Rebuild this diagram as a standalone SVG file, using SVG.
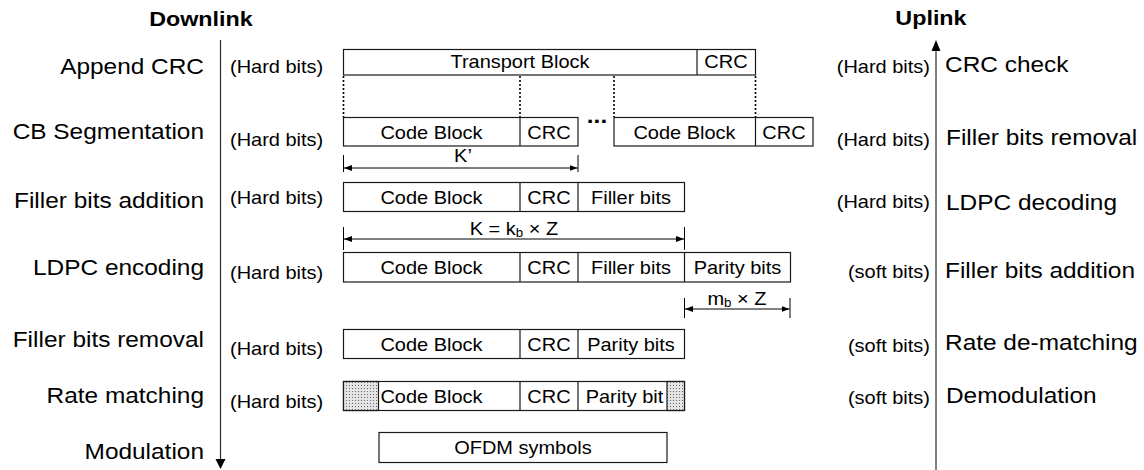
<svg xmlns="http://www.w3.org/2000/svg" width="1144" height="470" viewBox="0 0 1144 470">
  <style>
    text { font-family: "Liberation Sans", Arial, sans-serif; fill: #000; transform-box: fill-box; transform: scaleX(1.11); }
    .title { font-size: 21px; font-weight: bold; text-anchor: middle; transform-origin: 50% 50%; }
    .step { font-size: 22px; }
    .sl { text-anchor: end; transform-origin: 100% 50%; }
    .sr { text-anchor: start; transform-origin: 0% 50%; }
    .bits { font-size: 18px; }
    .cell { font-size: 18px; text-anchor: middle; transform-origin: 50% 50%; }
    .box { fill: #fff; stroke: #1a1a1a; stroke-width: 1.2; }
    .div { stroke: #1a1a1a; stroke-width: 1.2; }
    .dot { stroke: #000; stroke-width: 1.6; stroke-dasharray: 2 2; }
    .dim { stroke: #000; stroke-width: 1; fill: none; }
    .tick { stroke: #000; stroke-width: 1; }
    .hatch { fill: url(#stipple); stroke: #1a1a1a; stroke-width: 1.2; }
  </style>
  <defs>
    <pattern id="stipple" width="3" height="3" patternUnits="userSpaceOnUse">
      <rect width="3" height="3" fill="#e4e4e4"/>
      <rect x="1" y="1" width="1" height="1" fill="#6a6a6a"/>
    </pattern>
    <marker id="dimhead" viewBox="0 0 8 6" refX="8" refY="3" markerWidth="8" markerHeight="6" markerUnits="userSpaceOnUse" orient="auto-start-reverse">
      <path d="M0,0 L8,3 L0,6 Z" fill="#000"/>
    </marker>
  </defs>

  <!-- column headings -->
  <text class="title" x="201" y="26">Downlink</text>
  <text class="title" x="931" y="25">Uplink</text>

  <!-- downlink step labels -->
  <g id="downlink-steps">
    <text class="step sl" x="204" y="74">Append CRC</text>
    <text class="step sl" x="204" y="139">CB Segmentation</text>
    <text class="step sl" x="204" y="208">Filler bits addition</text>
    <text class="step sl" x="204" y="275">LDPC encoding</text>
    <text class="step sl" x="204" y="347">Filler bits removal</text>
    <text class="step sl" x="204" y="403">Rate matching</text>
    <text class="step sl" x="204" y="459">Modulation</text>
  </g>
  <g id="downlink-bits">
    <text class="bits sr" x="230" y="73">(Hard bits)</text>
    <text class="bits sr" x="230" y="146">(Hard bits)</text>
    <text class="bits sr" x="230" y="204">(Hard bits)</text>
    <text class="bits sr" x="230" y="279">(Hard bits)</text>
    <text class="bits sr" x="230" y="355">(Hard bits)</text>
    <text class="bits sr" x="230" y="408">(Hard bits)</text>
  </g>

  <!-- uplink step labels -->
  <g id="uplink-bits">
    <text class="bits sl" x="930" y="73">(Hard bits)</text>
    <text class="bits sl" x="930" y="146">(Hard bits)</text>
    <text class="bits sl" x="930" y="208">(Hard bits)</text>
    <text class="bits sl" x="930" y="278">(soft bits)</text>
    <text class="bits sl" x="930" y="352">(soft bits)</text>
    <text class="bits sl" x="930" y="404">(soft bits)</text>
  </g>
  <g id="uplink-steps">
    <text class="step sr" x="945" y="72">CRC check</text>
    <text class="step sr" x="946" y="145">Filler bits removal</text>
    <text class="step sr" x="946" y="210">LDPC decoding</text>
    <text class="step sr" x="945" y="278">Filler bits addition</text>
    <text class="step sr" x="945" y="350">Rate de-matching</text>
    <text class="step sr" x="946" y="403">Demodulation</text>
  </g>

  <!-- transport block with CRC -->
  <g id="transport-block">
    <rect class="box" x="343.5" y="49.5" width="412" height="25.5"/>
    <line class="div" x1="697" y1="49.5" x2="697" y2="75"/>
    <text class="cell" x="520" y="68.5">Transport Block</text>
    <text class="cell" x="726" y="68.5">CRC</text>
  </g>

  <!-- segmented code blocks -->
  <g id="code-block-1">
    <rect class="box" x="343.5" y="117.5" width="234.5" height="28.5"/>
    <line class="div" x1="520" y1="117.5" x2="520" y2="146"/>
    <text class="cell" x="431.5" y="139">Code Block</text>
    <text class="cell" x="549" y="139">CRC</text>
  </g>
  <text id="ellipsis" x="597" y="123" style="font-size:22px;font-weight:bold;text-anchor:middle;transform-origin:50% 50%">...</text>
  <g id="code-block-n">
    <rect class="box" x="614" y="117.5" width="199" height="28.5"/>
    <line class="div" x1="755.5" y1="117.5" x2="755.5" y2="146"/>
    <text class="cell" x="684.5" y="139">Code Block</text>
    <text class="cell" x="784" y="139">CRC</text>
  </g>

  <!-- filler bits added -->
  <g id="filler-added">
    <rect class="box" x="343.5" y="182.5" width="341" height="29"/>
    <line class="div" x1="520" y1="182.5" x2="520" y2="211.5"/>
    <line class="div" x1="578" y1="182.5" x2="578" y2="211.5"/>
    <text class="cell" x="431.5" y="204.5">Code Block</text>
    <text class="cell" x="549" y="204.5">CRC</text>
    <text class="cell" x="631" y="204.5">Filler bits</text>
  </g>

  <!-- LDPC encoded block -->
  <g id="ldpc-encoded">
    <rect class="box" x="343.5" y="252.5" width="447" height="29.5"/>
    <line class="div" x1="520" y1="252.5" x2="520" y2="282"/>
    <line class="div" x1="578" y1="252.5" x2="578" y2="282"/>
    <line class="div" x1="684.5" y1="252.5" x2="684.5" y2="282"/>
    <text class="cell" x="431.5" y="274.5">Code Block</text>
    <text class="cell" x="549" y="274.5">CRC</text>
    <text class="cell" x="631" y="274.5">Filler bits</text>
    <text class="cell" x="737.5" y="274.5">Parity bits</text>
  </g>

  <!-- filler bits removed -->
  <g id="filler-removed">
    <rect class="box" x="343.5" y="329.5" width="341" height="29"/>
    <line class="div" x1="520" y1="329.5" x2="520" y2="358.5"/>
    <line class="div" x1="578" y1="329.5" x2="578" y2="358.5"/>
    <text class="cell" x="431.5" y="351.5">Code Block</text>
    <text class="cell" x="549" y="351.5">CRC</text>
    <text class="cell" x="631" y="351.5">Parity bits</text>
  </g>

  <!-- rate matched block with punctured ends -->
  <g id="rate-matched">
    <rect class="box" x="343.5" y="381.5" width="341" height="29"/>
    <line class="div" x1="520" y1="381.5" x2="520" y2="410.5"/>
    <line class="div" x1="578" y1="381.5" x2="578" y2="410.5"/>
    <text class="cell" x="431.5" y="403.5">Code Block</text>
    <text class="cell" x="549" y="403.5">CRC</text>
    <text class="cell" x="624.5" y="403.5">Parity bit</text>
    <rect class="hatch" x="343.5" y="381.5" width="35" height="29"/>
    <rect class="hatch" x="667" y="381.5" width="17.5" height="29"/>
  </g>

  <!-- OFDM symbols -->
  <g id="ofdm-symbols">
    <rect class="box" x="379" y="432.5" width="288" height="30"/>
    <text class="cell" x="523" y="454.5">OFDM symbols</text>
  </g>

  <!-- connectors: flow arrows, segmentation guides, length dimensions -->
  <g id="connectors">
    <line x1="220.5" y1="40" x2="220.5" y2="460" stroke="#2a2a2a" stroke-width="1.2"/>
    <path d="M215.5,459 L225.5,459 L220.5,469 Z" fill="#000"/>
    <line x1="936" y1="470" x2="936" y2="50" stroke="#808080" stroke-width="2"/>
    <path d="M931.5,51 L940.5,51 L936,40 Z" fill="#000"/>

    <line class="dot" x1="343.5" y1="76" x2="343.5" y2="117"/>
    <line class="dot" x1="520" y1="76" x2="520" y2="117"/>
    <line class="dot" x1="614" y1="76" x2="614" y2="117"/>
    <line class="dot" x1="755.5" y1="76" x2="755.5" y2="117"/>

    <line class="tick" x1="343.5" y1="155" x2="343.5" y2="172"/>
    <line class="tick" x1="578" y1="155" x2="578" y2="172"/>
    <line class="dim" x1="344" y1="168" x2="577.5" y2="168" marker-start="url(#dimhead)" marker-end="url(#dimhead)"/>
    <text class="cell" x="463" y="162">K’</text>

    <line class="tick" x1="343.5" y1="227" x2="343.5" y2="250"/>
    <line class="tick" x1="684.5" y1="227" x2="684.5" y2="250"/>
    <line class="dim" x1="344" y1="239" x2="684" y2="239" marker-start="url(#dimhead)" marker-end="url(#dimhead)"/>
    <text class="cell" x="514" y="235">K = k<tspan font-size="12" dy="2">b</tspan><tspan dy="-2"> × Z</tspan></text>

    <line class="tick" x1="684.5" y1="298" x2="684.5" y2="318"/>
    <line class="tick" x1="790" y1="298" x2="790" y2="318"/>
    <line class="dim" x1="685" y1="309" x2="789.5" y2="309" marker-start="url(#dimhead)" marker-end="url(#dimhead)"/>
    <text class="cell" x="737" y="305">m<tspan font-size="12" dy="2">b</tspan><tspan dy="-2"> × Z</tspan></text>
  </g>
</svg>
